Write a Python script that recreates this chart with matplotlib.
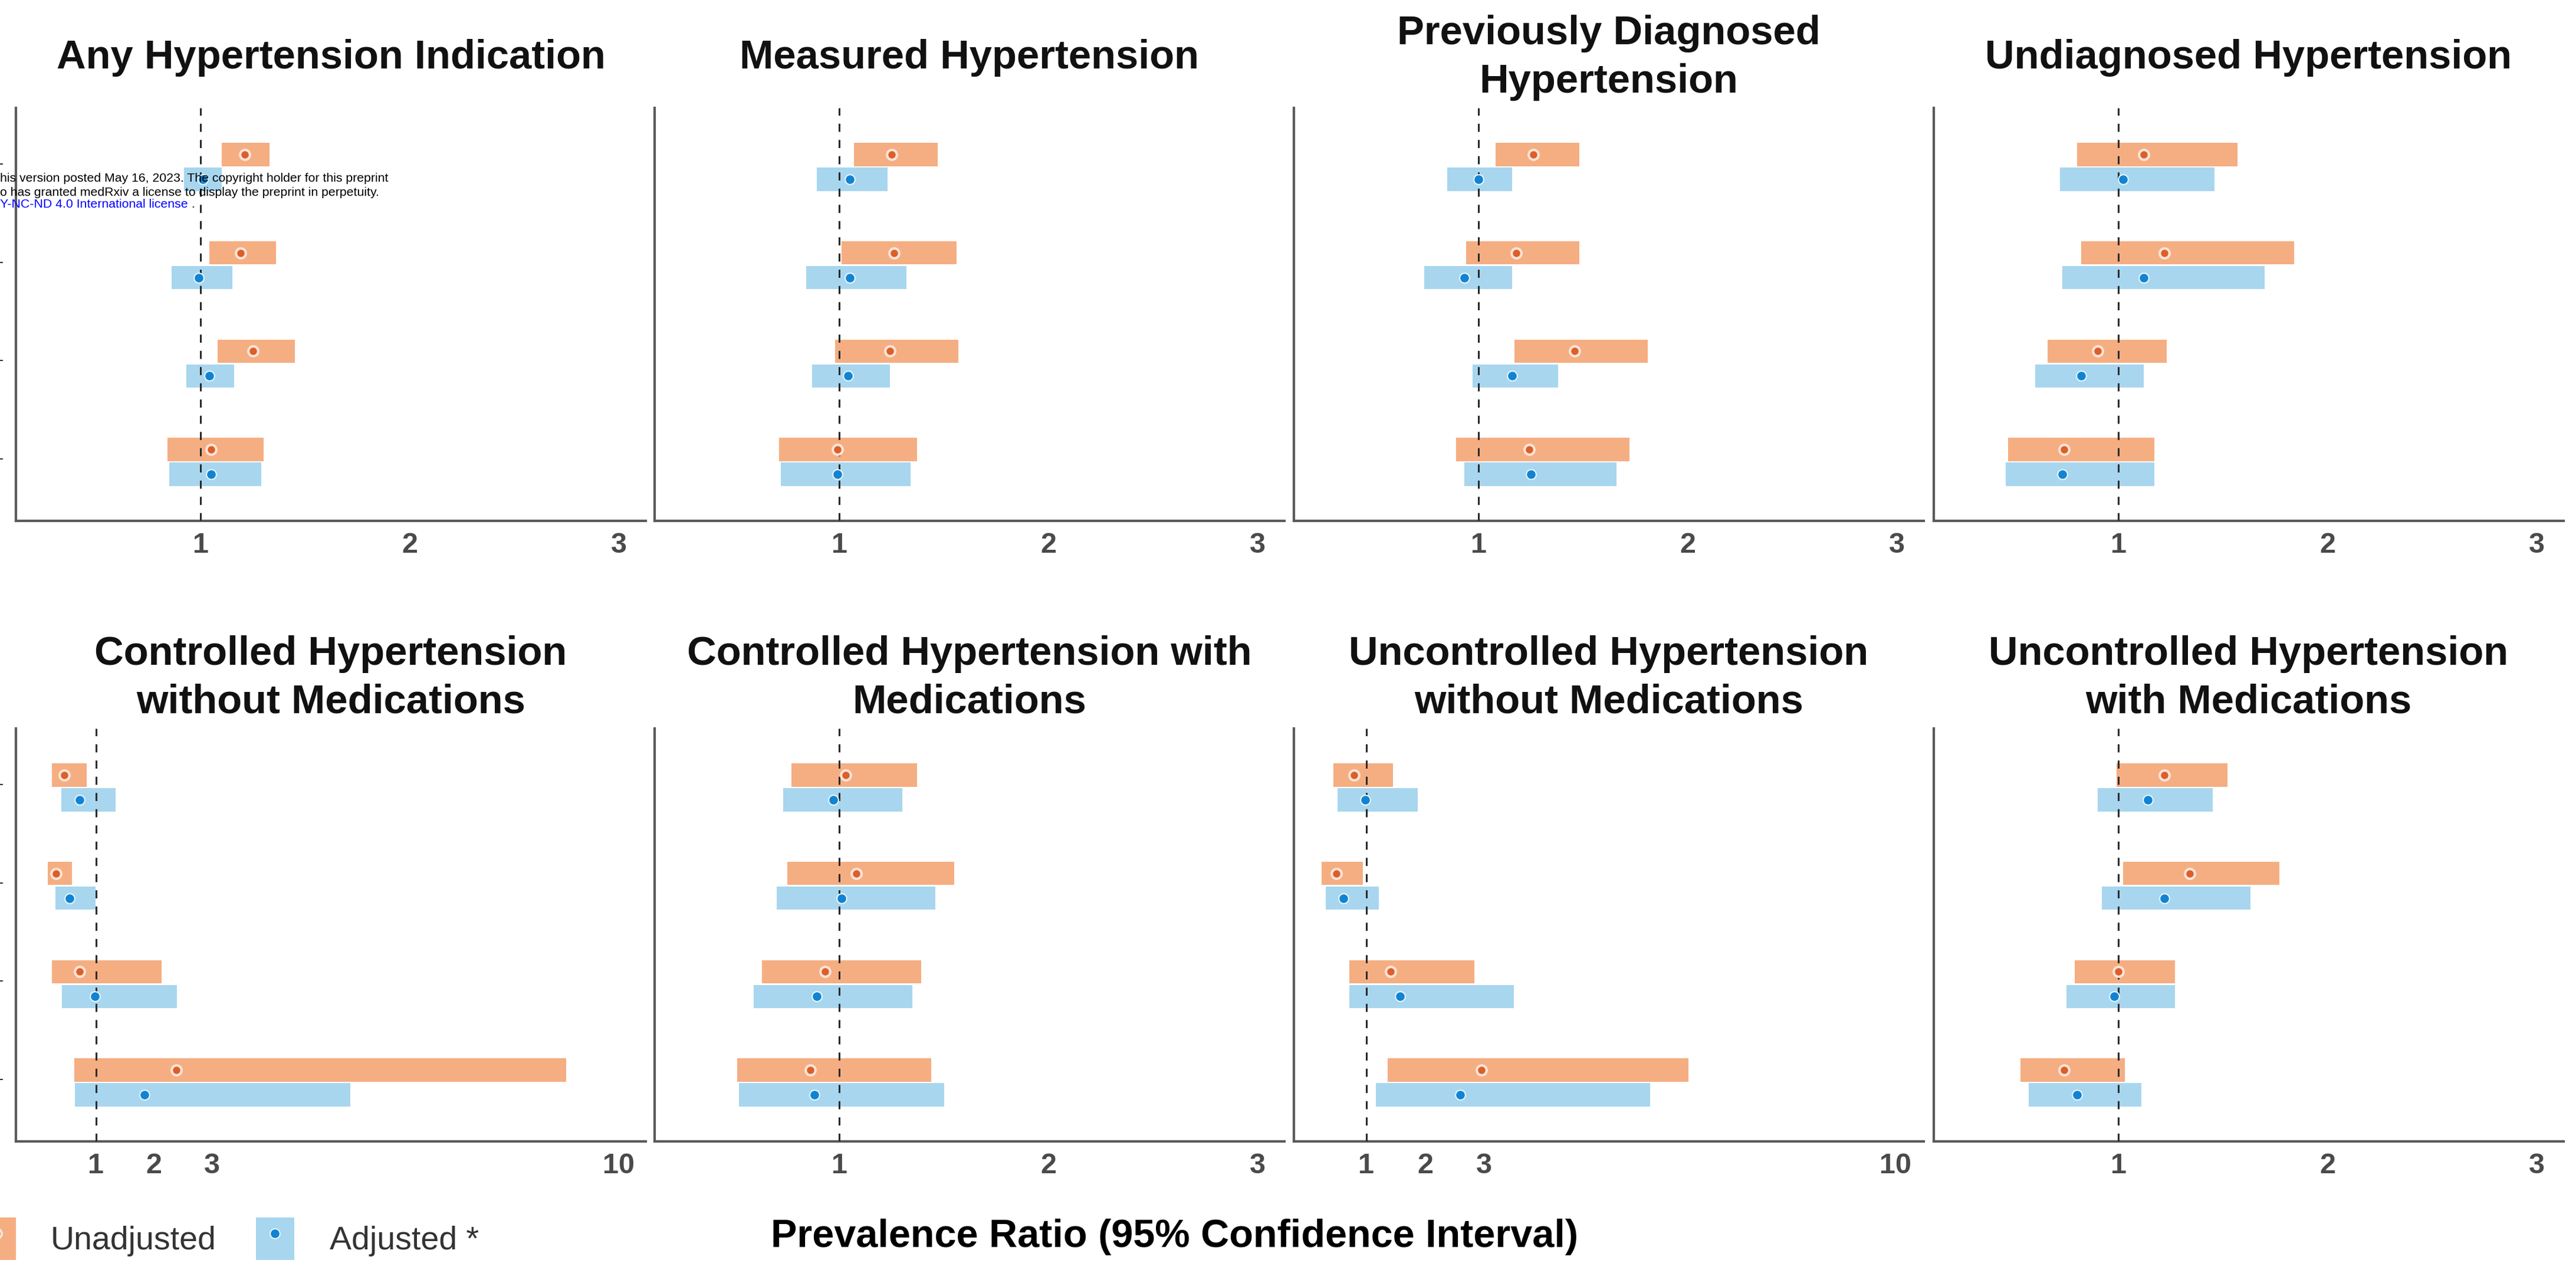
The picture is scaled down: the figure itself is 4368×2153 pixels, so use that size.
import matplotlib
matplotlib.use('Agg')
import matplotlib.pyplot as plt
import numpy as np
from matplotlib.patches import Patch
from matplotlib.lines import Line2D
from matplotlib.legend_handler import HandlerTuple
from matplotlib import font_manager

plt.rcParams['font.family'] = ['Liberation Sans', 'DejaVu Sans']

# ---------------- data ----------------
titles = [
    "Any Hypertension Indication",
    "Measured Hypertension",
    "Previously Diagnosed\nHypertension",
    "Undiagnosed Hypertension",
    "Controlled Hypertension\nwithout Medications",
    "Controlled Hypertension with\nMedications",
    "Uncontrolled Hypertension\nwithout Medications",
    "Uncontrolled Hypertension\nwith Medications",
]
# four comparison groups per panel, listed top to bottom
groups = ["Group 1", "Group 2", "Group 3", "Group 4"]

unadj_est = [
    [1.21, 1.19, 1.25, 1.05],
    [1.25, 1.26, 1.24, 0.99],
    [1.26, 1.18, 1.46, 1.24],
    [1.12, 1.22, 0.90, 0.74],
    [0.45, 0.31, 0.72, 2.38],
    [1.03, 1.08, 0.93, 0.86],
    [0.79, 0.49, 1.41, 2.96],
    [1.22, 1.34, 1.00, 0.74],
]
unadj_lo = [
    [1.10, 1.04, 1.08, 0.84],
    [1.07, 1.01, 0.98, 0.71],
    [1.08, 0.94, 1.17, 0.89],
    [0.80, 0.82, 0.66, 0.47],
    [0.24, 0.17, 0.24, 0.63],
    [0.77, 0.75, 0.63, 0.51],
    [0.44, 0.24, 0.71, 1.36],
    [0.99, 1.02, 0.79, 0.53],
]
unadj_hi = [
    [1.33, 1.36, 1.45, 1.30],
    [1.47, 1.56, 1.57, 1.37],
    [1.48, 1.48, 1.81, 1.72],
    [1.57, 1.84, 1.23, 1.17],
    [0.84, 0.59, 2.13, 9.10],
    [1.37, 1.55, 1.39, 1.44],
    [1.45, 0.94, 2.84, 6.48],
    [1.52, 1.77, 1.27, 1.03],
]
adj_est = [
    [1.01, 0.99, 1.04, 1.05],
    [1.05, 1.05, 1.04, 0.99],
    [1.00, 0.93, 1.16, 1.25],
    [1.02, 1.12, 0.82, 0.73],
    [0.72, 0.54, 0.98, 1.83],
    [0.97, 1.01, 0.89, 0.88],
    [0.98, 0.61, 1.58, 2.60],
    [1.14, 1.22, 0.98, 0.80],
]
adj_lo = [
    [0.92, 0.86, 0.93, 0.85],
    [0.89, 0.84, 0.87, 0.72],
    [0.85, 0.74, 0.97, 0.93],
    [0.72, 0.73, 0.60, 0.46],
    [0.40, 0.30, 0.41, 0.64],
    [0.73, 0.70, 0.59, 0.52],
    [0.51, 0.31, 0.71, 1.16],
    [0.90, 0.92, 0.75, 0.57],
]
adj_hi = [
    [1.10, 1.15, 1.16, 1.29],
    [1.23, 1.32, 1.24, 1.34],
    [1.16, 1.16, 1.38, 1.66],
    [1.46, 1.70, 1.12, 1.17],
    [1.34, 0.99, 2.39, 5.38],
    [1.30, 1.46, 1.35, 1.50],
    [1.88, 1.21, 3.51, 5.83],
    [1.45, 1.63, 1.27, 1.11],
]
xticks_small = [1, 2, 3]
xticks_wide = [1, 2, 3, 10]
series_labels = ["Unadjusted", "Adjusted *"]
xlabel = "Prevalence Ratio (95% Confidence Interval)"
watermark = [
    "his version posted May 16, 2023. The copyright holder for this preprint",
    "o has granted medRxiv a license to display the preprint in perpetuity.",
]
watermark_link = "Y-NC-ND 4.0 International license"

# ---------------- style ----------------
ORANGE_BAR = "#f5ae82"
BLUE_BAR = "#a8d6ef"
ORANGE_PT = "#dc5f2a"
BLUE_PT = "#1283d2"
AXIS_C = "#5a5a5a"
TICK_C = "#4a4a4a"

# narrow font for the watermark if available
names = {f.name for f in font_manager.fontManager.ttflist}
if "Liberation Sans Narrow" in names:
    wm_family, wm_size = ["Liberation Sans Narrow", "DejaVu Sans"], 18.5
else:
    wm_family, wm_size = ["Liberation Sans", "DejaVu Sans"], 15.3

W, H = 4368, 2153
fig = plt.figure(figsize=(W / 100, H / 100), dpi=100)

col_left = [27, 1110, 2194, 3279]
ax_w = 1068
row_bottom = [883, 1935]
ax_h = 700
xlims = [(0.115, 3.13)] * 4 + [(-0.38, 10.47), (0.115, 3.13), (-0.23, 10.48), (0.115, 3.13)]

ypos = np.arange(len(groups))[::-1] + 1.0
off = 0.126
bh = 0.235

for i in range(8):
    r, c = divmod(i, 4)
    ax = fig.add_axes([col_left[c] / W, 1 - row_bottom[r] / H, ax_w / W, ax_h / H])
    ue, ul, uh = map(np.array, (unadj_est[i], unadj_lo[i], unadj_hi[i]))
    ae, al, ah = map(np.array, (adj_est[i], adj_lo[i], adj_hi[i]))
    ax.barh(ypos + off, uh - ul, left=ul, height=bh, color=ORANGE_BAR, lw=0, zorder=2)
    ax.barh(ypos - off, ah - al, left=al, height=bh, color=BLUE_BAR, lw=0, zorder=2)
    ax.axvline(1, color="#2b2b2b", lw=2.2, dashes=(4.5, 4.5), zorder=3)
    ax.plot(ue, ypos + off, "o", ms=12, mfc=ORANGE_PT, mec="#fbe3d6", mew=3, zorder=4)
    ax.plot(ae, ypos - off, "o", ms=12, mfc=BLUE_PT, mec="#e8f5fc", mew=1.5, zorder=4)
    ax.set_xlim(*xlims[i])
    ax.set_ylim(0.4, 4.6)
    ax.set_xticks(xticks_wide if i in (4, 6) else xticks_small)
    ax.tick_params(axis="x", length=0, pad=14, labelsize=35, labelcolor=TICK_C)
    for lab in ax.get_xticklabels():
        lab.set_fontweight("bold")
    if c == 0:
        ax.set_yticks(ypos + 0.05)
        ax.set_yticklabels(["-"] * len(groups))
        ax.tick_params(axis="y", length=0, pad=15, labelsize=22, labelcolor="#333333")
    else:
        ax.set_yticks([])
    for s in ("top", "right"):
        ax.spines[s].set_visible(False)
    for s in ("left", "bottom"):
        ax.spines[s].set_color(AXIS_C)
        ax.spines[s].set_linewidth(3)
    ax.set_facecolor("none")
    ax.text(0.5, 1.122, titles[i], transform=ax.transAxes, ha="center", va="center",
            fontsize=49.5, fontweight="bold", color="#111111", linespacing=1.36)

# watermark text (top-left, partially cut in the source)
fig.text(0, 1 - 303 / H, watermark[0], fontsize=wm_size, family=wm_family, color="black",
         va="center", ha="left", zorder=10)
fig.text(0, 1 - 326 / H, watermark[1], fontsize=wm_size, family=wm_family, color="black",
         va="center", ha="left", zorder=10)
t3 = fig.text(0, 1 - 347 / H, watermark_link, fontsize=wm_size, family=wm_family, color="blue",
              va="center", ha="left", zorder=10)
fig.add_artist(plt.Annotation(" .", xy=(1, 0), xycoords=t3, va="bottom", ha="left",
                              fontsize=wm_size, family=wm_family, color="black"))

# x label
fig.text(1992 / W, 1 - 2097 / H, xlabel, ha="center", va="center", fontsize=48,
         fontweight="bold", color="black")

# legend
h_un = (Patch(facecolor=ORANGE_BAR, lw=0),
        Line2D([], [], ls="None", marker="o", ms=12, mfc=ORANGE_PT, mec="#fbe3d6", mew=3))
h_ad = (Patch(facecolor=BLUE_BAR, lw=0),
        Line2D([], [], ls="None", marker="o", ms=12, mfc=BLUE_PT, mec="#e8f5fc", mew=1.5))
fig.legend([h_un, h_ad], series_labels, handler_map={tuple: HandlerTuple(ndivide=1, pad=0)},
           ncol=2, loc="center left", bbox_to_anchor=(-39 / W, 1 - 2100 / H), frameon=False,
           fontsize=40, labelcolor="#333333", handlelength=1.18, handleheight=1.6,
           handletextpad=1.07, columnspacing=1.2, borderpad=0, borderaxespad=0)

fig.savefig("out.png", dpi=100)
